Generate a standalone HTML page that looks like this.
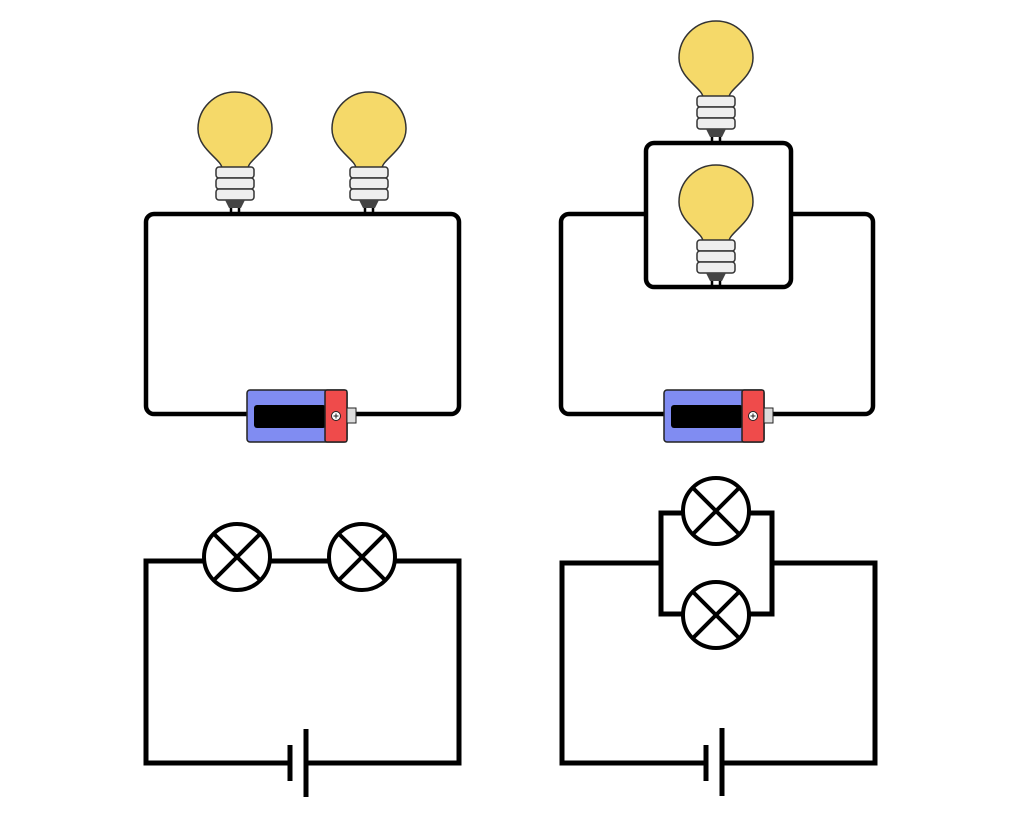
<!DOCTYPE html>
<html><head><meta charset="utf-8"><style>html,body{margin:0;padding:0;background:#fff}svg{display:block}</style></head>
<body>
<svg width="1024" height="833" viewBox="0 0 1024 833" xmlns="http://www.w3.org/2000/svg">
<defs>
<g id="bulb">
  <path d="M-13,-41 C-14,-50 -37,-60 -37,-80 A37,37 0 1 1 37,-80 C37,-60 14,-50 13,-41 Z" fill="#f5d969" stroke="#333" stroke-width="1.5"/>
  <rect x="-19" y="-42" width="38" height="11" rx="3" fill="#eeeeee" stroke="#333" stroke-width="1.5"/>
  <rect x="-19" y="-31" width="38" height="11" rx="3" fill="#eeeeee" stroke="#333" stroke-width="1.5"/>
  <rect x="-19" y="-20" width="38" height="11" rx="3" fill="#eeeeee" stroke="#333" stroke-width="1.5"/>
  <path d="M-10,-9 L10,-9 L6,-1 L-6,-1 Z" fill="#444"/>
  <path d="M-4,-1 L-4,5 M4,-1 L4,5" stroke="#000" stroke-width="2.5"/>
</g>
<g id="batt">
  <rect x="0" y="0" width="100" height="52" rx="3" fill="#808cf2" stroke="#222" stroke-width="1.5"/>
  <rect x="7" y="15" width="72" height="23" rx="3" fill="#000"/>
  <rect x="78" y="0" width="22" height="52" rx="2" fill="#ef4b4b" stroke="#222" stroke-width="1.5"/>
  <circle cx="89" cy="26" r="4.5" fill="#fff" stroke="#222" stroke-width="1"/>
  <path d="M86.5,26 H91.5 M89,23.5 V28.5" stroke="#222" stroke-width="1"/>
  <rect x="100" y="18" width="9" height="15" fill="#ddd" stroke="#222" stroke-width="1"/>
</g>
<g id="lamp">
  <circle r="33" fill="#fff" stroke="#000" stroke-width="4"/>
  <path d="M-23,-23 L23,23 M23,-23 L-23,23" stroke="#000" stroke-width="4"/>
</g>
</defs>
<g fill="none" stroke="#000" stroke-width="4.5" stroke-linejoin="round">
  <rect x="146" y="214" width="313" height="200" rx="8"/>
  <rect x="561" y="214" width="312" height="200" rx="8"/>
  <rect x="646" y="143" width="145" height="144" rx="8" fill="#fff"/>
</g>
<use href="#bulb" x="235" y="209"/>
<use href="#bulb" x="369" y="209"/>
<use href="#bulb" x="716" y="138"/>
<use href="#bulb" x="716" y="282"/>
<use href="#batt" x="247" y="390"/>
<use href="#batt" x="664" y="390"/>
<g fill="none" stroke="#000" stroke-width="5" stroke-linejoin="miter">
  <path d="M237,561 H146 V763 H290 M306,763 H459 V561 H237"/>
  <path d="M290,745 V781 M306,729 V797"/>
  <path d="M661,563 H562 V763 H706 M722,763 H875 V563 H772"/>
  <path d="M706,745 V781 M722,728 V796"/>
  <path d="M716,513 H661 V614 H716 M716,513 H772 V614 H716"/>
</g>
<use href="#lamp" x="237" y="557"/>
<use href="#lamp" x="362" y="557"/>
<use href="#lamp" x="716" y="511"/>
<use href="#lamp" x="716" y="615"/>
</svg>
</body></html>
